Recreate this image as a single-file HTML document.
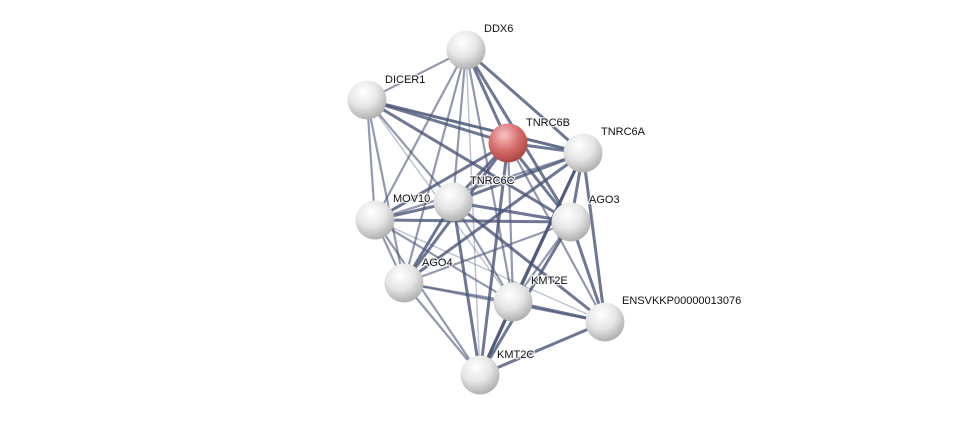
<!DOCTYPE html>
<html><head><style>
body{margin:0;background:#fff;width:976px;height:422px;overflow:hidden}
text{font-family:"Liberation Sans",sans-serif;font-size:11px;fill:#111;stroke:#fff;stroke-width:2.5px;stroke-opacity:0.8;paint-order:stroke;stroke-linejoin:round}
</style></head><body>
<svg width="976" height="422" viewBox="0 0 976 422">
<defs>
<radialGradient id="w" cx="0.4" cy="0.3" r="0.75">
<stop offset="0" stop-color="#ffffff"/><stop offset="0.5" stop-color="#e6e6e6"/><stop offset="1" stop-color="#a8a8a8"/></radialGradient>
<radialGradient id="r" cx="0.4" cy="0.3" r="0.75">
<stop offset="0" stop-color="#f4c4c4"/><stop offset="0.5" stop-color="#d97070"/><stop offset="1" stop-color="#a84040"/></radialGradient>
</defs>
<g stroke="#4a5578" stroke-linecap="round">
<g stroke-width="3" stroke-opacity="0.8">
<line x1="466" y1="50" x2="508" y2="143"/><line x1="466" y1="50" x2="583" y2="153"/><line x1="466" y1="50" x2="571" y2="222"/>
<line x1="367" y1="100" x2="508" y2="143"/><line x1="367" y1="100" x2="583" y2="153"/><line x1="367" y1="100" x2="571" y2="222"/>
<line x1="508" y1="143" x2="583" y2="153"/><line x1="508" y1="143" x2="453" y2="202"/><line x1="508" y1="143" x2="571" y2="222"/>
<line x1="508" y1="143" x2="404" y2="283"/><line x1="508" y1="143" x2="480" y2="375"/><line x1="508" y1="143" x2="375" y2="220"/>
<line x1="583" y1="153" x2="453" y2="202"/><line x1="583" y1="153" x2="571" y2="222"/><line x1="583" y1="153" x2="404" y2="283"/>
<line x1="583" y1="153" x2="480" y2="375"/><line x1="583" y1="153" x2="605" y2="322"/><line x1="583" y1="153" x2="513" y2="302"/>
<line x1="453" y1="202" x2="404" y2="283"/><line x1="453" y1="202" x2="480" y2="375"/><line x1="453" y1="202" x2="571" y2="222"/>
<line x1="453" y1="202" x2="605" y2="322"/><line x1="375" y1="220" x2="571" y2="222"/><line x1="513" y1="302" x2="605" y2="322"/>
<line x1="480" y1="375" x2="605" y2="322"/><line x1="513" y1="302" x2="480" y2="375"/><line x1="571" y1="222" x2="605" y2="322"/>
<line x1="571" y1="222" x2="480" y2="375"/><line x1="375" y1="220" x2="453" y2="202"/>
</g>
<g stroke-width="2.2" stroke-opacity="0.6">
<line x1="466" y1="50" x2="367" y2="100"/><line x1="466" y1="50" x2="453" y2="202"/><line x1="466" y1="50" x2="375" y2="220"/>
<line x1="466" y1="50" x2="404" y2="283"/><line x1="466" y1="50" x2="513" y2="302"/>
<line x1="367" y1="100" x2="375" y2="220"/><line x1="367" y1="100" x2="453" y2="202"/><line x1="367" y1="100" x2="404" y2="283"/>
<line x1="508" y1="143" x2="513" y2="302"/><line x1="508" y1="143" x2="605" y2="322"/>
<line x1="375" y1="220" x2="404" y2="283"/><line x1="375" y1="220" x2="583" y2="153"/><line x1="375" y1="220" x2="480" y2="375"/>
<line x1="375" y1="220" x2="513" y2="302"/><line x1="404" y1="283" x2="571" y2="222"/><line x1="404" y1="283" x2="513" y2="302"/>
<line x1="404" y1="283" x2="480" y2="375"/><line x1="404" y1="283" x2="605" y2="322"/><line x1="453" y1="202" x2="513" y2="302"/>
<line x1="571" y1="222" x2="513" y2="302"/>
</g>
<g stroke-width="1.5" stroke-opacity="0.35">
<line x1="466" y1="50" x2="480" y2="375"/><line x1="367" y1="100" x2="513" y2="302"/><line x1="375" y1="220" x2="605" y2="322"/>
<line x1="583" y1="153" x2="367" y2="100"/>
</g>
</g>
<g>
<circle cx="466" cy="50" r="19.5" fill="url(#w)"/>
<circle cx="367" cy="100" r="19.5" fill="url(#w)"/>
<circle cx="508" cy="143" r="19.5" fill="url(#r)"/>
<circle cx="583" cy="153" r="19.5" fill="url(#w)"/>
<circle cx="453" cy="202" r="19.5" fill="url(#w)"/>
<circle cx="375" cy="220" r="19.5" fill="url(#w)"/>
<circle cx="571" cy="222" r="19.5" fill="url(#w)"/>
<circle cx="404" cy="283" r="19.5" fill="url(#w)"/>
<circle cx="513" cy="302" r="19.5" fill="url(#w)"/>
<circle cx="605" cy="322" r="19.5" fill="url(#w)"/>
<circle cx="480" cy="375" r="19.5" fill="url(#w)"/>
</g>
<g>
<text x="484" y="32">DDX6</text>
<text x="385" y="83">DICER1</text>
<text x="526" y="126">TNRC6B</text>
<text x="601" y="135">TNRC6A</text>
<text x="470" y="184">TNRC6C</text>
<text x="393" y="202">MOV10</text>
<text x="589" y="203">AGO3</text>
<text x="422" y="266">AGO4</text>
<text x="531" y="284">KMT2E</text>
<text x="622" y="304">ENSVKKP00000013076</text>
<text x="497" y="358">KMT2C</text>
</g>
</svg>
</body></html>
